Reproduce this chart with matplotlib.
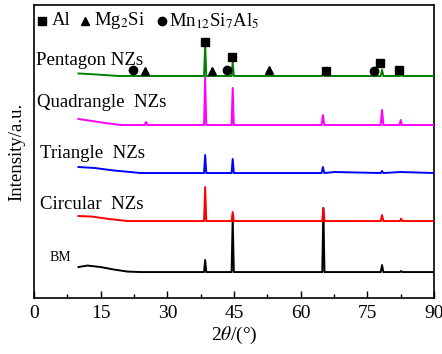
import numpy as np
import matplotlib
matplotlib.use("Agg")
import matplotlib.pyplot as plt

plt.rcParams['font.family'] = ['Liberation Serif', 'DejaVu Serif']
plt.rcParams['mathtext.fontset'] = 'stix'

# XRD patterns, stacked (arbitrary intensity units, offsets included)
bm_x = [10, 12, 15, 18, 21, 24, 38.25, 38.5, 38.75, 44.45, 44.7, 44.95,
        64.85, 65.1, 65.35, 78.0, 78.3, 78.6, 82.35, 82.6, 82.85, 90]
bm_y = [31, 32.5, 31, 28.5, 26.5, 26, 26, 38, 26, 26, 80, 26,
        26, 90, 26, 26, 33, 26, 26, 27, 26, 26]

cir_x = [10, 13, 17, 21, 38.25, 38.5, 38.75, 44.45, 44.7, 44.95,
         64.85, 65.1, 65.35, 78.0, 78.3, 78.6, 82.35, 82.6, 82.85, 90]
cir_y = [82, 81.5, 79, 77, 77, 111, 77, 77, 86, 77,
         77, 90, 77, 77, 83, 77, 77, 79.5, 77, 77]

tri_x = [10, 13.7, 18, 24, 38.25, 38.5, 38.75, 44.45, 44.7, 44.95,
         64.7, 65.0, 65.3, 67.7, 78.0, 78.3, 78.6, 82.4, 90]
tri_y = [131, 130, 127.5, 125, 125, 143, 125, 125, 139, 125,
         125, 131, 125, 126, 125, 127, 125, 126, 125]

quad_x = [10, 13, 16, 19.4, 24.9, 25.2, 25.5, 38.25, 38.5, 38.75, 44.45, 44.7, 44.95,
          64.7, 65.0, 65.3, 78.0, 78.3, 78.6, 82.25, 82.5, 82.75, 90]
quad_y = [179, 177, 175, 173, 173, 176, 173, 173, 221, 173, 173, 210, 173,
          173, 183, 173, 173, 188, 173, 173, 178, 173, 173]

pent_x = [10, 14, 19, 38.25, 38.5, 38.75, 44.45, 44.7, 44.95,
          64.8, 65.1, 65.4, 78.0, 78.3, 78.6, 82.35, 82.6, 82.85, 90]
pent_y = [224.5, 223.5, 222, 222, 254, 222, 222, 236, 222,
          222, 224, 222, 222, 228, 222, 222, 225, 222, 222]

# phase markers
al_x = [38.5, 44.6, 65.7, 77.9, 82.1]
al_y = [255.5, 240.5, 227, 235, 228]
mg_x = [25.0, 40.0, 52.9]
mg_y = [226.5, 226.5, 227.5]
mn_x = [22.3, 43.4, 76.5]
mn_y = [228, 228, 227]

fig = plt.figure(figsize=(4.42, 3.54), dpi=100)
ax = fig.add_axes([0.077, 0.158, 0.905, 0.828])

ax.plot(bm_x, bm_y, color='black', lw=1.4, zorder=2)
ax.plot(cir_x, cir_y, color='red', lw=1.4, zorder=3)
ax.plot(tri_x, tri_y, color='blue', lw=1.4, zorder=3)
ax.plot(quad_x, quad_y, color='magenta', lw=1.4, zorder=3)
ax.plot(pent_x, pent_y, color='green', lw=1.4, zorder=4)

ax.plot(al_x, al_y, 's', color='black', ms=6, zorder=5)
ax.plot(mg_x, mg_y, '^', color='black', ms=6, zorder=5)
ax.plot(mn_x, mn_y, 'o', color='black', ms=6, zorder=5)

# legend row
ax.plot([1.9], [277], 's', color='black', ms=6)
ax.text(3.9, 277, 'Al', fontsize=13.5, va='center')
ax.plot([11.5], [277], '^', color='black', ms=6)
ax.text(13.6, 277, r'Mg$_2$Si', fontsize=13.5, va='center')
ax.plot([28.8], [277], 'o', color='black', ms=6)
ax.text(30.4, 277, r'Mn$_{12}$Si$_7$Al$_5$', fontsize=13.5, va='center')

# sample labels
ax.text(0.4, 237, 'Pentagon NZs', fontsize=13.5, va='center')
ax.text(0.6, 195, 'Quadrangle  NZs', fontsize=13.5, va='center')
ax.text(1.3, 145, 'Triangle  NZs', fontsize=13.5, va='center')
ax.text(1.3, 94, 'Circular  NZs', fontsize=13.5, va='center')
ax.text(3.5, 41, 'BM', fontsize=10, va='center')

ax.set_xlim(0, 90)
ax.set_ylim(0, 293)
ax.set_xticks(np.arange(0, 91, 15))
ax.set_xticks(np.arange(0, 91, 7.5), minor=True)
ax.set_yticks([])
ax.tick_params(axis='x', which='major', direction='in', length=5, width=1, labelsize=14, pad=5)
ax.tick_params(axis='x', which='minor', direction='in', length=3, width=1)
for s in ax.spines.values():
    s.set_linewidth(1.2)

ax.set_xlabel(r'2$\theta$/(°)', fontsize=14, labelpad=2)
ax.set_ylabel('Intensity/a.u.', fontsize=13.5, labelpad=6)

fig.savefig('out.png', dpi=100)
